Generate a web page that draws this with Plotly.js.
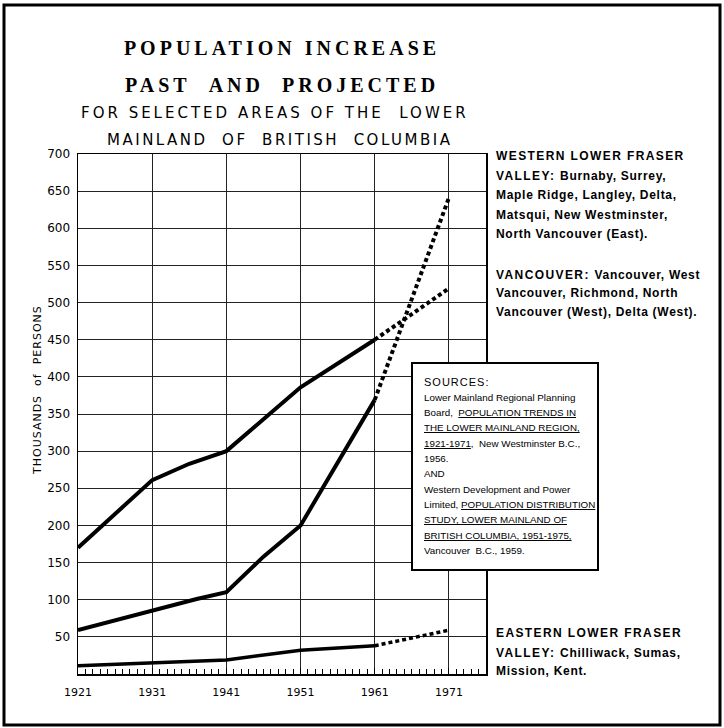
<!DOCTYPE html>
<html><head><meta charset="utf-8">
<script src="https://cdn.plot.ly/plotly-3.0.1.min.js"></script>
<style>html,body{margin:0;padding:0;background:#fff}</style>
</head><body><div id="chart" style="width:724px;height:728px"></div>
<script>
// ---- data (thousands of persons) ----
const vancouverYears = [1921, 1931, 1936, 1941, 1951, 1961];
const vancouverValues = [170, 261, 283, 300, 386, 450];
const vancouverProjYears = [1961, 1971];
const vancouverProjValues = [450, 519];

const westernYears = [1921, 1931, 1937, 1941, 1946, 1951, 1961];
const westernValues = [59, 85, 101, 110, 158, 200, 369];
const westernProjYears = [1961, 1971];
const westernProjValues = [369, 641];

const easternYears = [1921, 1931, 1941, 1951, 1961];
const easternValues = [11, 15, 19, 32, 38];
const easternProjYears = [1961, 1971];
const easternProjValues = [38, 59];

const xTickVals = [1921, 1931, 1941, 1951, 1961, 1971];
const xTickText = ['1921', '1931', '1941', '1951', '1961', '1971'];
const yTickVals = [50, 100, 150, 200, 250, 300, 350, 400, 450, 500, 550, 600, 650, 700];
const yTickText = ['50', '100', '150', '200', '250', '300', '350', '400', '450', '500', '550', '600', '650', '700'];

const titleMain = 'POPULATION INCREASE';
const titleLine2 = 'PAST\u00a0\u00a0AND\u00a0\u00a0PROJECTED';
const subtitleLines = ['FOR SELECTED AREAS OF THE\u00a0 LOWER', 'MAINLAND\u00a0 OF\u00a0 BRITISH\u00a0 COLUMBIA'];
const yAxisTitle = 'THOUSANDS\u00a0 of\u00a0 PERSONS';

const westernLabel = ['WESTERN LOWER FRASER', 'VALLEY: Burnaby, Surrey,', 'Maple Ridge, Langley, Delta,', 'Matsqui, New Westminster,', 'North Vancouver (East).'];
const vancouverLabel = ['VANCOUVER: Vancouver, West', 'Vancouver, Richmond, North', 'Vancouver (West), Delta (West).'];
const easternLabel = ['EASTERN LOWER FRASER', 'VALLEY: Chilliwack, Sumas,', 'Mission, Kent.'];

const sourceLines = [
  'SOURCES:',
  'Lower Mainland Regional Planning',
  'Board,\u00a0 <u>POPULATION TRENDS IN</u>',
  '<u>THE LOWER MAINLAND REGION,</u>',
  '<u>1921-1971</u>,\u00a0 New Westminster B.C.,',
  '1956.',
  'AND',
  'Western Development and Power',
  'Limited, <u>POPULATION DISTRIBUTION</u>',
  '<u>STUDY, LOWER MAINLAND OF</u>',
  '<u>BRITISH COLUMBIA, 1951-1975,</u>',
  'Vancouver\u00a0 B.C., 1959.'
];

// ---- layout helpers (pixel -> paper) ----
const L = 78, R = 486, T = 154, B = 674, W = 724, H = 728;
const px = x => (x - L) / (R - L);
const py = y => (B - y) / (B - T);
const sp = (t, s) => '<span style="letter-spacing:' + s + 'px">' + t + '</span>';
// wider spacing for the capital-letter heading part of a label line
const labelMarkup = t => {
  const m = t.match(/^[A-Z :]+(?![a-z])/);
  if (!m) return sp(t, 0.7);
  const head = m[0], rest = t.slice(head.length);
  return sp(head, 1.4) + (rest ? sp(rest, 0.7) : '');
};

const solid = {color: '#000', width: 4};
const dotted = {color: '#000', width: 4, dash: '4px,3px'};

const traces = [
  {x: vancouverYears, y: vancouverValues, mode: 'lines', line: solid, name: 'Vancouver'},
  {x: vancouverProjYears, y: vancouverProjValues, mode: 'lines', line: dotted, name: 'Vancouver (projected)'},
  {x: westernYears, y: westernValues, mode: 'lines', line: solid, name: 'Western Lower Fraser Valley'},
  {x: westernProjYears, y: westernProjValues, mode: 'lines', line: dotted, name: 'Western Lower Fraser Valley (projected)'},
  {x: easternYears, y: easternValues, mode: 'lines', line: {color: '#000', width: 3.5}, name: 'Eastern Lower Fraser Valley'},
  {x: easternProjYears, y: easternProjValues, mode: 'lines', line: {color: '#000', width: 3.5, dash: '4px,3px'}, name: 'Eastern Lower Fraser Valley (projected)'}
];

const minorYears = [];
for (let yv = 1921; yv <= 1976; yv++) minorYears.push(yv);

const ann = [];
const sans = 'DejaVu Sans, Verdana, sans-serif';
const arial = 'Liberation Sans, Arial, sans-serif';
ann.push({text: sp(titleLine2, 4), xref: 'paper', yref: 'paper', x: px(282), y: py(85), xanchor: 'center', yanchor: 'middle', showarrow: false,
  font: {family: 'Liberation Serif, Times New Roman, serif', size: 20, color: '#000', weight: 'bold'}});
ann.push({text: sp(subtitleLines[0], 3), xref: 'paper', yref: 'paper', x: px(275), y: py(113),
  xanchor: 'center', yanchor: 'middle', showarrow: false, font: {family: sans, size: 15, color: '#000'}});
ann.push({text: sp(subtitleLines[1], 2.5), xref: 'paper', yref: 'paper', x: px(279), y: py(140),
  xanchor: 'center', yanchor: 'middle', showarrow: false, font: {family: sans, size: 15, color: '#000'}});
ann.push({text: sp(yAxisTitle, 1), xref: 'paper', yref: 'paper', x: px(37), y: py(390), xanchor: 'center', yanchor: 'middle',
  textangle: -90, showarrow: false, font: {family: sans, size: 11, color: '#000'}});

const blockFont = {family: arial, size: 12, color: '#000', weight: 'bold'};
const westY = [156, 176, 195, 215, 234];
westernLabel.forEach((t, i) => ann.push({text: labelMarkup(t), xref: 'paper', yref: 'paper', x: px(494), y: py(westY[i]), xanchor: 'left', yanchor: 'middle', showarrow: false, font: blockFont}));
const vanY = [275, 293, 312];
vancouverLabel.forEach((t, i) => ann.push({text: labelMarkup(t), xref: 'paper', yref: 'paper', x: px(494), y: py(vanY[i]), xanchor: 'left', yanchor: 'middle', showarrow: false, font: blockFont}));
const eastY = [633, 653, 671];
easternLabel.forEach((t, i) => ann.push({text: labelMarkup(t), xref: 'paper', yref: 'paper', x: px(494), y: py(eastY[i]), xanchor: 'left', yanchor: 'middle', showarrow: false, font: blockFont}));

sourceLines.forEach((t, i) => ann.push({text: i === 0 ? sp(t, 1) : t, xref: 'paper', yref: 'paper', x: px(422), y: py(382 + i * 15.3), xanchor: 'left', yanchor: 'middle', showarrow: false,
  font: {family: arial, size: i === 0 ? 11 : 9.8, color: '#000'}}));

const layout = {
  width: W, height: H,
  margin: {l: L, r: W - R, t: T, b: H - B, pad: 0},
  paper_bgcolor: '#fff', plot_bgcolor: '#fff',
  showlegend: false,
  title: {text: sp(titleMain, 4), x: 282 / W, xref: 'container', xanchor: 'center', y: 1 - 48 / H, yref: 'container', yanchor: 'middle',
    font: {family: 'Liberation Serif, Times New Roman, serif', size: 20, color: '#000', weight: 'bold'}},
  xaxis: {
    range: [1921, 1976], tickmode: 'array', tickvals: xTickVals, ticktext: xTickText,
    showgrid: true, gridcolor: '#222', gridwidth: 1, zeroline: false,
    showline: true, mirror: true, linecolor: '#000', linewidth: 1.5,
    ticks: 'inside', ticklen: 6, tickcolor: '#000', tickwidth: 1,
    minor: {tickmode: 'array', tickvals: minorYears, ticks: 'inside', ticklen: 5, tickcolor: '#000', tickwidth: 1, showgrid: false},
    tickfont: {family: sans, size: 11, color: '#000'}, ticklabelstandoff: 7, fixedrange: true
  },
  yaxis: {
    range: [0, 700], tickmode: 'array', tickvals: yTickVals, ticktext: yTickText,
    showgrid: true, gridcolor: '#222', gridwidth: 1, zeroline: false,
    showline: true, mirror: true, linecolor: '#000', linewidth: 1.5,
    ticks: '', tickfont: {family: sans, size: 12, color: '#000'}, ticklabelstandoff: 4, fixedrange: true
  },
  shapes: [
    {type: 'rect', xref: 'paper', yref: 'paper', x0: px(412), x1: px(598), y0: py(570), y1: py(363),
      fillcolor: '#fff', line: {color: '#000', width: 2}, layer: 'above'},
    {type: 'rect', xref: 'paper', yref: 'paper', x0: px(4), x1: px(720), y0: py(725), y1: py(5),
      fillcolor: 'rgba(0,0,0,0)', line: {color: '#000', width: 3}, layer: 'above'}
  ],
  annotations: ann
};

Plotly.newPlot('chart', traces, layout, {staticPlot: true, displayModeBar: false});
</script></body></html>
